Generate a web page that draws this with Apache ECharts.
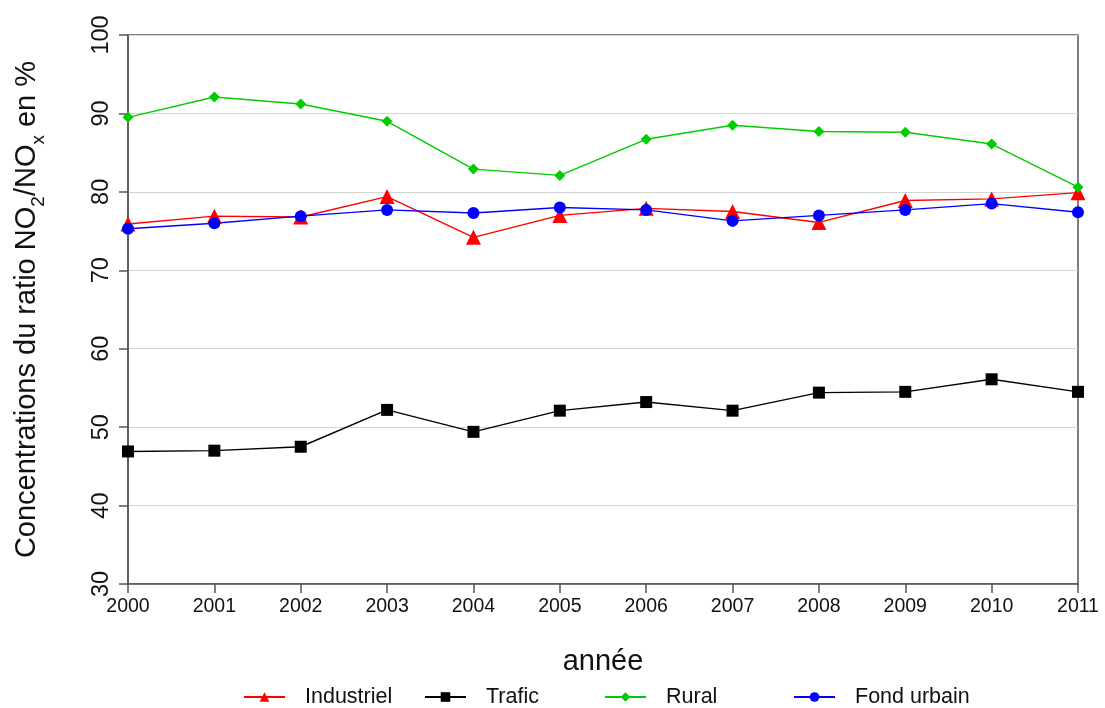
<!DOCTYPE html>
<html>
<head>
<meta charset="utf-8">
<script src="https://cdn.jsdelivr.net/npm/echarts@6/dist/echarts.min.js"></script>
<style>
  html, body { margin: 0; padding: 0; background: #fff; }
  #chart { width: 1105px; height: 708px; }
</style>
</head>
<body>
<div id="chart"></div>
<script>
// Annual mean NO2/NOx ratio (%) by station type
const years = ['2000', '2001', '2002', '2003', '2004', '2005', '2006', '2007', '2008', '2009', '2010', '2011'];
const industriel = [75.9, 76.9, 76.8, 79.4, 74.2, 77.0, 77.9, 77.5, 76.1, 78.9, 79.1, 79.9];
const trafic = [46.9, 47.0, 47.5, 52.2, 49.4, 52.1, 53.2, 52.1, 54.4, 54.5, 56.1, 54.5];
const rural = [89.5, 92.1, 91.2, 89.0, 82.9, 82.1, 86.7, 88.5, 87.7, 87.6, 86.1, 80.6];
const fondUrbain = [75.3, 76.0, 76.9, 77.7, 77.3, 78.0, 77.7, 76.3, 77.0, 77.7, 78.5, 77.4];
const yTicks = [30, 40, 50, 60, 70, 80, 90, 100];

const FONT = '"Liberation Sans", Arial, sans-serif';
const AXIS_COLOR = '#555';

function lineSeries(name, data, color, symbol, size) {
  return {
    name, type: 'line', data,
    symbol, symbolSize: size,
    showSymbol: true,
    lineStyle: { color, width: 1.4 },
    itemStyle: { color },
    emphasis: { disabled: true },
    animation: false
  };
}

// one legend block per series so each entry sits in its own column
function legendAt(name, left) {
  return {
    data: [name], left, top: 681,
    itemWidth: 41, itemHeight: 12,
    textStyle: { fontFamily: FONT, fontSize: 21.5, color: '#111', padding: [0, 0, 0, 15] },
    selectedMode: false
  };
}

const chart = echarts.init(document.getElementById('chart'), null, { renderer: 'canvas' });
chart.setOption({
  backgroundColor: '#fff',
  animation: false,
  grid: { left: 128, right: 27, top: 35, bottom: 124, show: true, borderColor: AXIS_COLOR, borderWidth: 1.5 },
  xAxis: {
    type: 'category', data: years, boundaryGap: false,
    name: 'année', nameLocation: 'middle', nameGap: 63,
    nameTextStyle: { fontFamily: FONT, fontSize: 29, color: '#111' },
    axisLine: { show: true, lineStyle: { color: AXIS_COLOR, width: 1.5 } },
    axisTick: { show: true, length: 9, alignWithLabel: true, lineStyle: { color: AXIS_COLOR, width: 1.5 } },
    axisLabel: { fontFamily: FONT, fontSize: 19.5, color: '#111', margin: 13, showMinLabel: true, showMaxLabel: true, interval: 0 },
    splitLine: { show: false }
  },
  yAxis: {
    type: 'value', min: yTicks[0], max: yTicks[yTicks.length - 1], interval: 10,
    name: '{t|Concentrations du ratio NO}{s|2}{t|/NO}{s|x}{t| en %}',
    nameLocation: 'middle', nameGap: 87, nameRotate: 90,
    nameTextStyle: {
      rich: {
        t: { fontFamily: FONT, fontSize: 29, color: '#111', lineHeight: 36, verticalAlign: 'bottom' },
        s: { fontFamily: FONT, fontSize: 19, color: '#111', lineHeight: 36, verticalAlign: 'bottom', padding: [0, 0, -7, 0] }
      }
    },
    axisLine: { show: true, lineStyle: { color: AXIS_COLOR, width: 1.5 } },
    axisTick: { show: true, length: 9, lineStyle: { color: AXIS_COLOR, width: 1.5 } },
    axisLabel: { fontFamily: FONT, fontSize: 23.5, color: '#111', rotate: 90, margin: 14 },
    splitLine: { show: true, lineStyle: { color: '#d4d4d4', width: 1 } }
  },
  legend: [
    legendAt('Industriel', 238),
    legendAt('Trafic', 419),
    legendAt('Rural', 599),
    legendAt('Fond urbain', 788)
  ],
  series: [
    lineSeries('Industriel', industriel, '#ff0000', 'triangle', 15),
    lineSeries('Trafic', trafic, '#000000', 'rect', 12),
    lineSeries('Rural', rural, '#00cc00', 'diamond', 11),
    lineSeries('Fond urbain', fondUrbain, '#0000ff', 'circle', 12)
  ]
});
</script>
</body>
</html>
